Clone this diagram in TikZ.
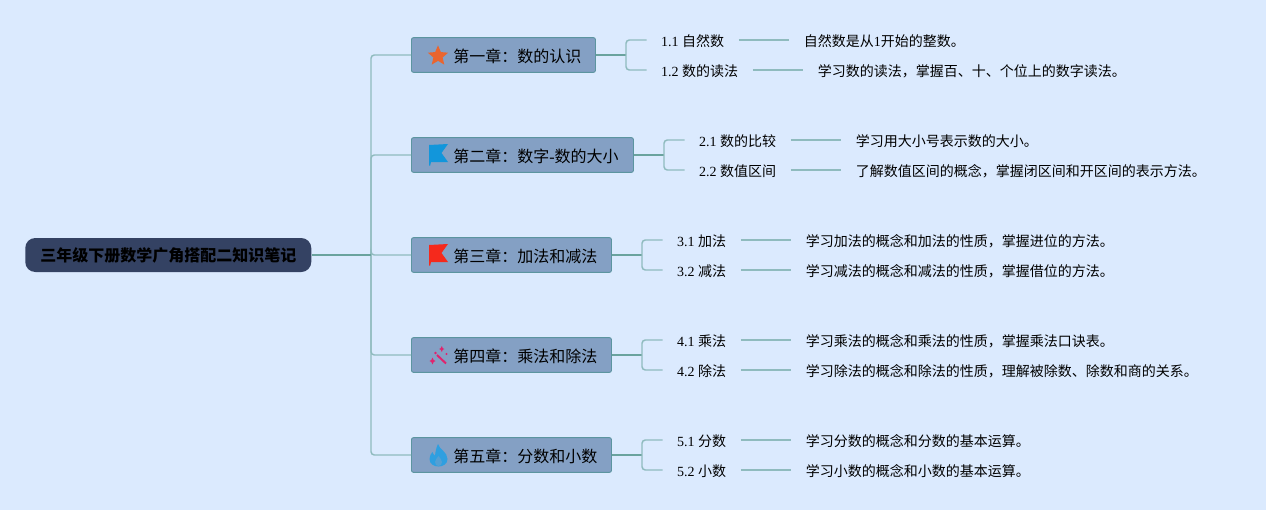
\documentclass[tikz,border=0pt]{standalone}
\usepackage{fontspec}
\setmainfont{Liberation Serif}
\newfontfamily\cjk{Noto Sans CJK SC}
\usetikzlibrary{shapes.geometric}
\definecolor{bgc}{HTML}{DBEAFE}
\definecolor{rootc}{HTML}{344263}
\definecolor{chapc}{HTML}{84A0C4}
\definecolor{edgec}{HTML}{5C95A0}
\definecolor{darkl}{HTML}{6AA39E}
\definecolor{lightl}{HTML}{8FBBBE}
\definecolor{starc}{HTML}{E9652F}
\definecolor{bluef}{HTML}{1296DB}
\definecolor{redf}{HTML}{F5291C}
\definecolor{wandc}{HTML}{E0246E}
\definecolor{firec}{HTML}{2F9FE0}
\tikzset{
  rootbox/.style={draw=none,fill=rootc,rounded corners=7.5pt,minimum width=214.5pt,minimum height=25.5pt,inner sep=0pt,anchor=west,font=\cjk\bfseries\fontsize{12}{14}\selectfont,text=black},
  chapbox/.style={draw=edgec,line width=0.7pt,fill=chapc,rounded corners=1.5pt,minimum height=26pt,inner sep=0pt,anchor=west},
  chaptext/.style={inner sep=0pt,anchor=west,font=\cjk\fontsize{12}{14}\selectfont,text=black},
  leaf/.style={inner xsep=10.75pt,inner ysep=0pt,anchor=west,text height=10pt,text depth=0.5pt,font=\fontsize{10.5}{12}\selectfont,text=black},
  desc/.style={inner xsep=11.1pt,inner ysep=0pt,anchor=west,text height=10pt,text depth=0.5pt,font=\cjk\fontsize{10.5}{12}\selectfont,text=black},
  mainline/.style={draw=darkl,line width=1.4pt},
  trunk/.style={draw=lightl,line width=1.1pt,rounded corners=2.5pt},
  leafline/.style={draw=lightl,line width=1pt}
}
\newcommand{\zh}[1]{{\cjk #1}}
\begin{document}
\begin{tikzpicture}[x=0.75pt,y=-0.75pt]
\fill[bgc] (0,0) rectangle (1266,510);
\useasboundingbox (0,0) rectangle (1266,510);
% root
\node[rootbox] (root) at (25,255) {三年级下册数学广角搭配二知识笔记};
\coordinate (j) at (371,255);
% chapters
\node[chapbox,minimum width=138pt] (c1) at (411,55) {};
\node[chapbox,minimum width=166.5pt] (c2) at (411,155) {};
\node[chapbox,minimum width=150pt] (c3) at (411,255) {};
\node[chapbox,minimum width=150pt] (c4) at (411,355) {};
\node[chapbox,minimum width=150pt] (c5) at (411,455) {};
\node[chaptext] (t1) at (453,56) {第一章：数的认识};
\node[chaptext] (t2) at (453,156) {第二章：数字{\rmfamily -}数的大小};
\node[chaptext] (t3) at (453,256) {第三章：加法和减法};
\node[chaptext] (t4) at (453,356) {第四章：乘法和除法};
\node[chaptext] (t5) at (453,456) {第五章：分数和小数};
% trunk
\foreach \c in {c1,c2,c3,c4,c5} \draw[trunk] (j) |- (\c.west);
\draw[mainline] (root.east) -- (j);
% junctions
\coordinate (b1) at (626,55);
\coordinate (b2) at (664,155);
\coordinate (b3) at (642,255);
\coordinate (b4) at (642,355);
\coordinate (b5) at (642,455);
% leaves
\node[leaf] (l11) at (646.6,40) {1.1 \zh{自然数}};
\node[leaf] (l12) at (646.6,70) {1.2 \zh{数的读法}};
\node[leaf] (l21) at (684.6,140) {2.1 \zh{数的比较}};
\node[leaf] (l22) at (684.6,170) {2.2 \zh{数值区间}};
\node[leaf] (l31) at (662.6,240) {3.1 \zh{加法}};
\node[leaf] (l32) at (662.6,270) {3.2 \zh{减法}};
\node[leaf] (l41) at (662.6,340) {4.1 \zh{乘法}};
\node[leaf] (l42) at (662.6,370) {4.2 \zh{除法}};
\node[leaf] (l51) at (662.6,440) {5.1 \zh{分数}};
\node[leaf] (l52) at (662.6,470) {5.2 \zh{小数}};
% descriptions
\node[desc] (d11) at ([xshift=37.5pt]l11.east) {自然数是从{\rmfamily 1}开始的整数。};
\node[desc] (d12) at ([xshift=37.5pt]l12.east) {学习数的读法，掌握百、十、个位上的数字读法。};
\node[desc] (d21) at ([xshift=37.5pt]l21.east) {学习用大小号表示数的大小。};
\node[desc] (d22) at ([xshift=37.5pt]l22.east) {了解数值区间的概念，掌握闭区间和开区间的表示方法。};
\node[desc] (d31) at ([xshift=37.5pt]l31.east) {学习加法的概念和加法的性质，掌握进位的方法。};
\node[desc] (d32) at ([xshift=37.5pt]l32.east) {学习减法的概念和减法的性质，掌握借位的方法。};
\node[desc] (d41) at ([xshift=37.5pt]l41.east) {学习乘法的概念和乘法的性质，掌握乘法口诀表。};
\node[desc] (d42) at ([xshift=37.5pt]l42.east) {学习除法的概念和除法的性质，理解被除数、除数和商的关系。};
\node[desc] (d51) at ([xshift=37.5pt]l51.east) {学习分数的概念和分数的基本运算。};
\node[desc] (d52) at ([xshift=37.5pt]l52.east) {学习小数的概念和小数的基本运算。};
% connectors
\foreach \i in {1,...,5}{
  \draw[mainline] (c\i.east) -- (b\i);
  \draw[trunk] (b\i) |- (l\i1.west);
  \draw[trunk] (b\i) |- (l\i2.west);
  \draw[leafline] (l\i1.east) -- (d\i1.west);
  \draw[leafline] (l\i2.east) -- (d\i2.west);
}
% icons
\node[star,star points=5,star point ratio=2.2,fill=starc,minimum size=16pt,inner sep=0pt] (i1) at (438,56) {};
\fill[bluef] (429,145) -- (448,144) -- (441.5,153) -- (448,162) -- (431,162) -- (430.2,165.5) -- (429,165.5) -- cycle;
\fill[redf] (429,245) -- (448,244) -- (441.5,253) -- (448,262) -- (431,262) -- (430.2,265.5) -- (429,265.5) -- cycle;
\draw[wandc,line width=1.5pt] (437,355) -- (446,363.5);
\fill[wandc] (441.8,346) -- (442.8,348.2) -- (444.5,349) -- (442.8,349.8) -- (441.8,352) -- (440.8,349.8) -- (439.1,349) -- (440.8,348.2) -- cycle;
\fill[wandc] (432.5,357.5) -- (433.7,360) -- (435.5,361) -- (433.7,362) -- (432.5,364.5) -- (431.3,362) -- (429.5,361) -- (431.3,360) -- cycle;
\fill[wandc] (435.5,353) circle (1.4);
\fill[wandc] (446.5,354) circle (1.1);
\fill[firec] (438,444) .. controls (439,449) and (447.5,452) .. (447.5,459) .. controls (447.5,464) and (443,466.5) .. (438.5,466.5) .. controls (434,466.5) and (429.5,464) .. (429.5,459) .. controls (429.5,456) and (431,453.5) .. (432.5,452) .. controls (433,454) and (434,455) .. (435,455.5) .. controls (435.5,451) and (436.5,447) .. (438,444) -- cycle;
\fill[chapc!45!firec] (438.5,456) .. controls (439.5,458) and (442,459.5) .. (442,462) .. controls (442,464.5) and (440.5,466) .. (438.5,466) .. controls (436.5,466) and (435,464.5) .. (435,462) .. controls (435,459.5) and (437.5,458) .. (438.5,456) -- cycle;
\end{tikzpicture}
\end{document}
